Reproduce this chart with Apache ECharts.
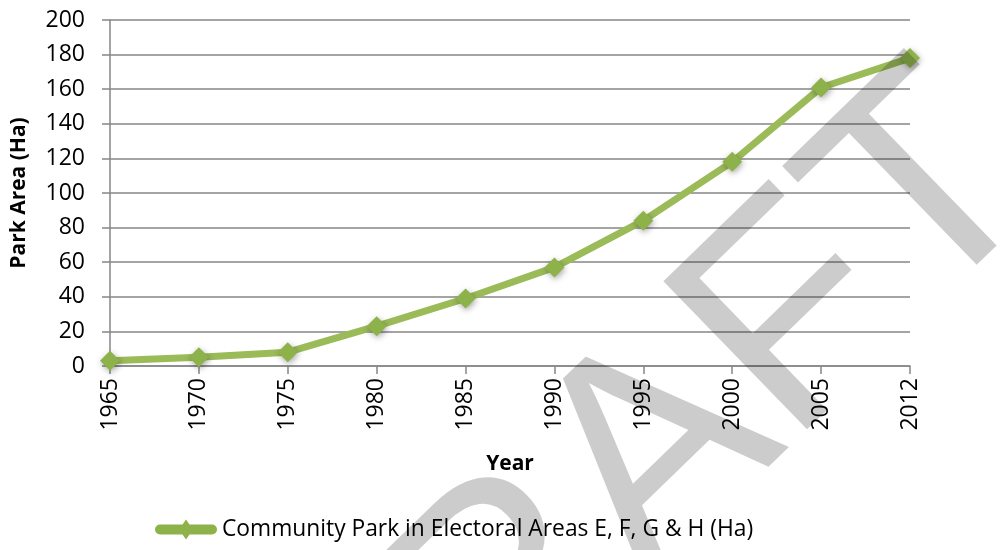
<!DOCTYPE html>
<html>
<head>
<meta charset="utf-8">
<script src="https://cdn.jsdelivr.net/npm/echarts@6/dist/echarts.min.js"></script>
<style>html,body{margin:0;padding:0;background:#fff;}#c{width:1004px;height:550px;}</style>
</head>
<body>
<div id="c"></div>
<script>
var years = ['1965','1970','1975','1980','1985','1990','1995','2000','2005','2012'];
var parkArea = [3, 5, 8, 23, 39, 57, 84, 118, 161, 178];
var seriesName = 'Community Park in Electoral Areas E, F, G & H (Ha)';
var yTicks = {min: 0, max: 200, interval: 20};
var watermark = 'DRAFT';

var FONT = '"Open Sans", "Noto Sans", sans-serif';
var chart = echarts.init(document.getElementById('c'));
chart.setOption({
  animation: false,
  grid: {left: 110, right: 94, top: 20, bottom: 184},
  xAxis: {
    type: 'category', data: years, boundaryGap: false,
    name: 'Year', nameLocation: 'middle', nameGap: 88,
    nameTextStyle: {fontFamily: FONT, fontWeight: 'bold', fontSize: 21, color: '#000'},
    axisLine: {lineStyle: {color: '#868686', width: 1.5}},
    axisTick: {show: true, length: 8, lineStyle: {color: '#868686', width: 1.5}},
    axisLabel: {rotate: 90, fontFamily: FONT, fontSize: 23, color: '#000', margin: 12},
    splitLine: {show: false}
  },
  yAxis: {
    type: 'value', min: yTicks.min, max: yTicks.max, interval: yTicks.interval,
    name: 'Park Area (Ha)', nameLocation: 'middle', nameGap: 80,
    nameTextStyle: {fontFamily: FONT, fontWeight: 'bold', fontSize: 21, color: '#000'},
    axisLine: {show: true, lineStyle: {color: '#868686', width: 1.5}},
    axisTick: {show: true, length: 8, lineStyle: {color: '#868686', width: 1.5}},
    axisLabel: {fontFamily: FONT, fontSize: 23, color: '#000', margin: 25},
    splitLine: {lineStyle: {color: '#868686', width: 1.5}}
  },
  legend: {
    bottom: 4, left: 150,
    itemWidth: 62, itemHeight: 20, itemGap: 4,
    icon: 'path://M5,5 L57,5 A5,5 0 0 1 57,15 L5,15 A5,5 0 0 1 5,5 Z M31,0 L38,10 L31,20 L24,10 Z',
    textStyle: {fontFamily: FONT, fontSize: 22.8, color: '#000'},
    data: [seriesName]
  },
  series: [{
    name: seriesName, type: 'line', data: parkArea,
    symbol: 'diamond', symbolSize: 20,
    lineStyle: {color: '#9BBB59', width: 7},
    itemStyle: {color: '#8DB24A', shadowBlur: 6, shadowColor: 'rgba(0,0,0,0.35)', shadowOffsetX: 1, shadowOffsetY: 2}
  }],
  graphic: [{
    type: 'text', x: 636, y: 480, rotation: 0.77, z: 100, silent: true,
    style: {text: watermark, fontFamily: '"Liberation Sans", Arial, sans-serif', fontSize: 300, fill: 'rgba(0,0,0,0.2)', align: 'center', verticalAlign: 'middle'}
  }]
});
</script>
</body>
</html>
